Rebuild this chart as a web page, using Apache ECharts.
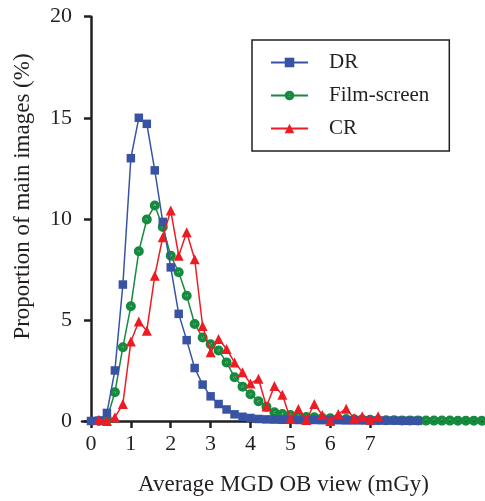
<!DOCTYPE html>
<html>
<head>
<meta charset="utf-8">
<script src="https://cdn.jsdelivr.net/npm/echarts@6/dist/echarts.min.js"></script>
<style>
html,body{margin:0;padding:0;background:#fff;}
#chart{width:485px;height:501px;}
</style>
</head>
<body>
<div id="chart"></div>
<script>
// Average MGD (mGy) sample points
const xValues = [0,0.2,0.4,0.6,0.8,1,1.2,1.4,1.6,1.8,2,2.2,2.4,2.6,2.8,3,3.2,3.4,3.6,3.8,4,4.2,4.4,4.6,4.8,5,5.2,5.4,5.6,5.8,6,6.2,6.4,6.6,6.8,7,7.2,7.4,7.6,7.8,8,8.2,8.4,8.6,8.8,9,9.2,9.4,9.6,9.8];
const xTickValues = [0,1,2,3,4,5,6,7];
const yTickValues = [0,5,10,15,20];

const drValues = [0,0.02,0.4,2.5,6.75,13.0,15.0,14.7,12.4,9.85,7.6,5.3,4.0,2.62,1.8,1.22,0.84,0.57,0.33,0.21,0.15,0.1,0.08,0.07,0.06,0.06,0.05,0.05,0.05,0.04,0.04,0.04,0.03,0.03,0.03,0.02,0.02,0.02,0.02,0.01,0.01,0.01,null,null,null,null,null,null,null,null];
const filmValues = [null,0.0,0.1,1.42,3.65,5.68,8.4,9.97,10.66,9.6,8.18,7.36,6.2,4.8,4.13,3.8,3.49,2.9,2.16,1.7,1.32,0.98,0.7,0.43,0.35,0.3,0.25,0.2,0.18,0.15,0.14,0.12,0.1,0.09,0.08,0.06,0.05,0.04,0.04,0.03,0.03,0.03,0.02,0.02,0.02,0.02,0.01,0.01,0.01,0.01];
const crValues = [null,0.06,0.0,0.18,0.84,3.93,4.92,4.47,7.19,9.09,10.41,8.18,9.34,8.0,4.7,3.4,4.06,3.56,2.9,2.41,1.85,2.09,0.72,1.73,1.3,0.1,0.59,0.05,0.84,0.3,0.0,0.35,0.6,0.13,0.23,0.06,0.23,null,null,null,null,null,null,null,null,null,null,null,null,null];

const seriesNames = ['DR','Film-screen','CR'];
const xTitle = 'Average MGD OB view (mGy)';
const yTitle = 'Proportion of main images (%)';

function pairs(vals){
  const out = [];
  xValues.forEach((x,i)=>{ if(vals[i]!==null && vals[i]!==undefined) out.push([x, vals[i]]); });
  return out;
}

const FONT = '"Liberation Serif","Times New Roman",serif';
const RING = 'path://M0,5 A5,5 0 1,1 10,5 A5,5 0 1,1 0,5 Z M3.9,5 A1.1,1.1 0 1,0 6.1,5 A1.1,1.1 0 1,0 3.9,5 Z';
const chart = echarts.init(document.getElementById('chart'), null, {renderer:'canvas'});
const axisColor = '#231f20';

chart.setOption({
  animation:false,
  backgroundColor:'#fff',
  grid:{left:82, top:16.7, right:0, bottom:78.3, containLabel:false},
  legend:{
    orient:'vertical', left:252, top:40,
    data:seriesNames,
    borderColor:axisColor, borderWidth:1.5,
    padding:[12,20,12,18],
    itemGap:12, itemWidth:37, itemHeight:12,
    textStyle:{fontFamily:FONT, fontSize:21, color:'#231f20', padding:[0,0,0,16]}
  },
  xAxis:{
    type:'value', min:-0.225, max:9.88,
    axisLine:{show:true, onZero:false, lineStyle:{color:axisColor, width:2.5}},
    axisTick:{show:true, length:7, lineStyle:{color:axisColor, width:2.5}, customValues:xTickValues},
    axisLabel:{fontFamily:FONT, fontSize:22, color:'#231f20', margin:12, customValues:xTickValues},
    splitLine:{show:false},
    name:xTitle, nameLocation:'middle', nameGap:52,
    nameTextStyle:{fontFamily:FONT, fontSize:23, color:'#231f20'}
  },
  yAxis:{
    type:'value', min:0, max:20, interval:5,
    axisLine:{show:true, lineStyle:{color:axisColor, width:2.5}},
    axisTick:{show:true, length:7, lineStyle:{color:axisColor, width:2.5}},
    axisLabel:{fontFamily:FONT, fontSize:22, color:'#231f20', margin:10},
    splitLine:{show:false}
  },
  graphic:[{
    type:'text', x:23, y:196.5, rotation:Math.PI/2,
    style:{text:yTitle, font:'23px "Liberation Serif","Times New Roman",serif', fill:'#231f20', align:'center', verticalAlign:'middle'}
  }],
  series:[
    {name:'DR', type:'line', data:pairs(drValues), z:3,
     symbol:'rect', symbolSize:8.5, color:'#3953a4',
     lineStyle:{width:1.5, color:'#3953a4'}, itemStyle:{color:'#3953a4'}},
    {name:'Film-screen', type:'line', data:pairs(filmValues), z:2,
     symbol:RING, symbolSize:10, color:'#168a3e',
     lineStyle:{width:1.5, color:'#168a3e'}, itemStyle:{color:'#168a3e'}},
    {name:'CR', type:'line', data:pairs(crValues), z:4,
     symbol:'triangle', symbolSize:10, color:'#ed1c24',
     lineStyle:{width:1.5, color:'#ed1c24'}, itemStyle:{color:'#ed1c24'}}
  ]
});
</script>
</body>
</html>
